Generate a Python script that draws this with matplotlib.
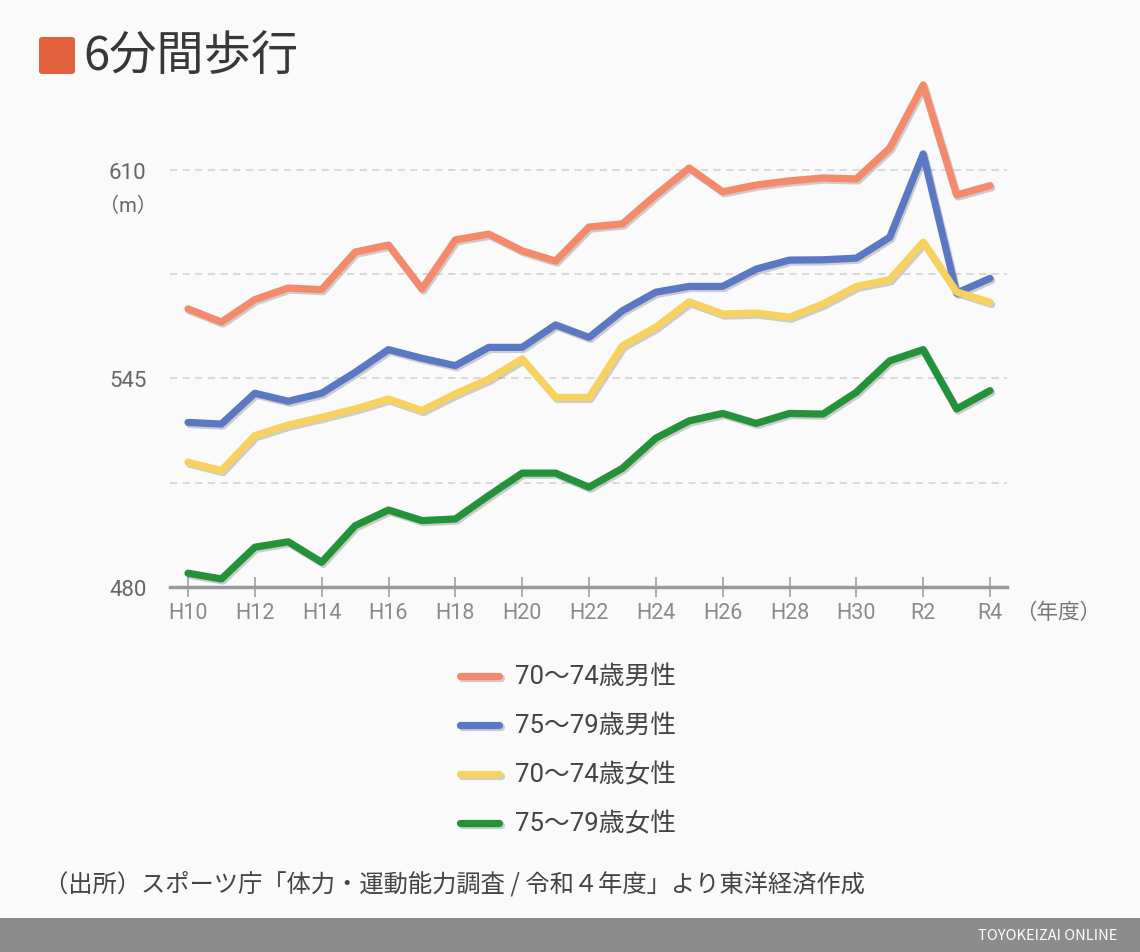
import matplotlib
matplotlib.use("Agg")
import matplotlib.pyplot as plt
import matplotlib.patheffects as pe
from matplotlib.patches import Rectangle, FancyBboxPatch
from matplotlib.lines import Line2D

plt.rcParams['font.family'] = ['Noto Sans CJK JP', 'DejaVu Sans']
MIX = ['Roboto', 'Noto Sans CJK JP', 'DejaVu Sans']

# ---- data ----
years = ["H10", "H11", "H12", "H13", "H14", "H15", "H16", "H17", "H18", "H19",
         "H20", "H21", "H22", "H23", "H24", "H25", "H26", "H27", "H28", "H29",
         "H30", "H31", "R2", "R3", "R4"]
tick_labels = ["H10", "H12", "H14", "H16", "H18", "H20", "H22", "H24", "H26", "H28", "H30", "R2", "R4"]

male_70_74 = [566.7, 562.6, 569.6, 573.2, 572.7, 584.4, 586.6, 572.9, 588.2, 590.0,
              584.8, 581.6, 592.2, 593.2, 602.2, 610.6, 603.2, 605.3, 606.6, 607.5,
              607.2, 616.8, 636.5, 602.2, 605.1]
male_75_79 = [531.3, 530.8, 540.4, 537.9, 540.4, 546.9, 554.0, 551.3, 549.0, 554.7,
              554.7, 561.7, 557.8, 566.1, 571.9, 573.7, 573.7, 579.1, 581.9, 582.0,
              582.5, 589.0, 615.0, 571.6, 576.2]
female_70_74 = [518.9, 516.3, 527.2, 530.5, 532.9, 535.5, 538.6, 535.0, 540.2, 544.8,
                551.1, 539.1, 539.1, 555.2, 561.0, 568.9, 565.1, 565.4, 564.1, 568.2,
                573.7, 575.8, 587.5, 572.0, 568.7]
female_75_79 = [484.3, 482.5, 492.4, 494.1, 487.7, 499.1, 504.0, 500.7, 501.2, 508.5,
                515.5, 515.5, 511.1, 517.0, 526.4, 531.8, 534.1, 531.0, 534.1, 533.9,
                540.7, 550.5, 554.0, 535.5, 541.2]

series_labels = ["70～74歳男性", "75～79歳男性", "70～74歳女性", "75～79歳女性"]
series_values = [male_70_74, male_75_79, female_70_74, female_75_79]
series_colors = ["#F4896B", "#5A78C4", "#F8D25E", "#23923A"]

y_ticks = [480, 545, 610]
grid_levels = [512.5, 545, 577.5, 610]

title = "6分間歩行"
unit_label = "（m）"
x_unit = "（年度）"
source = "（出所）スポーツ庁「体力・運動能力調査 / 令和４年度」より東洋経済作成"
brand = "TOYOKEIZAI ONLINE"

# ---- figure ----
W, H = 1140, 953
fig = plt.figure(figsize=(W / 100, H / 100), dpi=100, facecolor="#FAFAFA")


def fx(x):
    return x / W


def fy(y):
    return 1 - y / H


ax_left, ax_right = 170, 1007
ax_bottom_px, ax_top_px = 588, 74.7
ax = fig.add_axes([fx(ax_left), fy(ax_bottom_px), (ax_right - ax_left) / W,
                   (ax_bottom_px - ax_top_px) / H])
ax.set_facecolor("#FAFAFA")

xs = list(range(len(years)))
x0_px, step_px = 188, (990 - 188) / 24
ax.set_xlim((ax_left - x0_px) / step_px, (ax_right - x0_px) / step_px)
ax.set_ylim(480, 640)

for lvl in grid_levels:
    ax.axhline(lvl, color="#D6D6D6", lw=1.3, ls=(0, (4, 3)), zorder=1)

shadow = [pe.SimpleLineShadow(offset=(1.2, -1.5), shadow_color="#777777", alpha=0.35), pe.Normal()]
for vals, col, lab in zip(series_values, series_colors, series_labels):
    ax.plot(xs, vals, color=col, lw=5.2, solid_joinstyle="round", solid_capstyle="round",
            label=lab, zorder=3, path_effects=shadow, clip_on=False)

for s in ["top", "right", "left"]:
    ax.spines[s].set_visible(False)
ax.spines["bottom"].set_color("#9A9A9A")
ax.spines["bottom"].set_linewidth(2.5)
ax.spines["bottom"].set_zorder(2)

tick_pos = [years.index(t) for t in tick_labels]
ax.set_xticks(tick_pos)
ax.set_xticklabels(tick_labels, family=MIX)
ax.tick_params(axis="x", direction="inout", length=14, width=1.2, color="#A0A0A0",
               labelsize=15.5, labelcolor="#8A8A8A", pad=4)
ax.set_yticks(y_ticks)
ax.set_yticklabels([str(v) for v in y_ticks], family=MIX)
ax.tick_params(axis="y", length=0, labelsize=16, labelcolor="#666666", pad=17)

fig.text(fx(128), fy(206), unit_label, ha="center", va="center", fontsize=14.5,
         color="#666666", family=MIX)
fig.text(fx(1058), fy(613), x_unit, ha="center", va="center", fontsize=15.5, color="#777777")

# title
fig.add_artist(FancyBboxPatch((fx(39), fy(75)), fx(36), (37) / H,
                              boxstyle="round,pad=0,rounding_size=0.003",
                              transform=fig.transFigure, facecolor="#E2603C", edgecolor="none"))
fig.text(fx(83), fy(57), title, ha="left", va="center", fontsize=34, color="#383838")

# legend
leg_y = [677, 726, 775, 824]
for yy, col, lab in zip(leg_y, series_colors, series_labels):
    fig.add_artist(Line2D([fx(460), fx(499)], [fy(yy), fy(yy)], transform=fig.transFigure,
                          color=col, lw=5.2, solid_capstyle="round", path_effects=shadow))
    fig.text(fx(515), fy(yy), lab, ha="left", va="center", fontsize=18.5, color="#444444",
             family=MIX)

# source
fig.text(fx(44), fy(885), source, ha="left", va="center", fontsize=17.5, color="#444444")

# footer bar
fig.add_artist(Rectangle((0, 0), 1, (H - 919) / H, transform=fig.transFigure,
                         facecolor="#8C8C8C", edgecolor="none"))
fig.text(fx(1117), fy(936), brand, ha="right", va="center", fontsize=10.5, color="white")

fig.savefig("out.png", dpi=100, facecolor=fig.get_facecolor())
